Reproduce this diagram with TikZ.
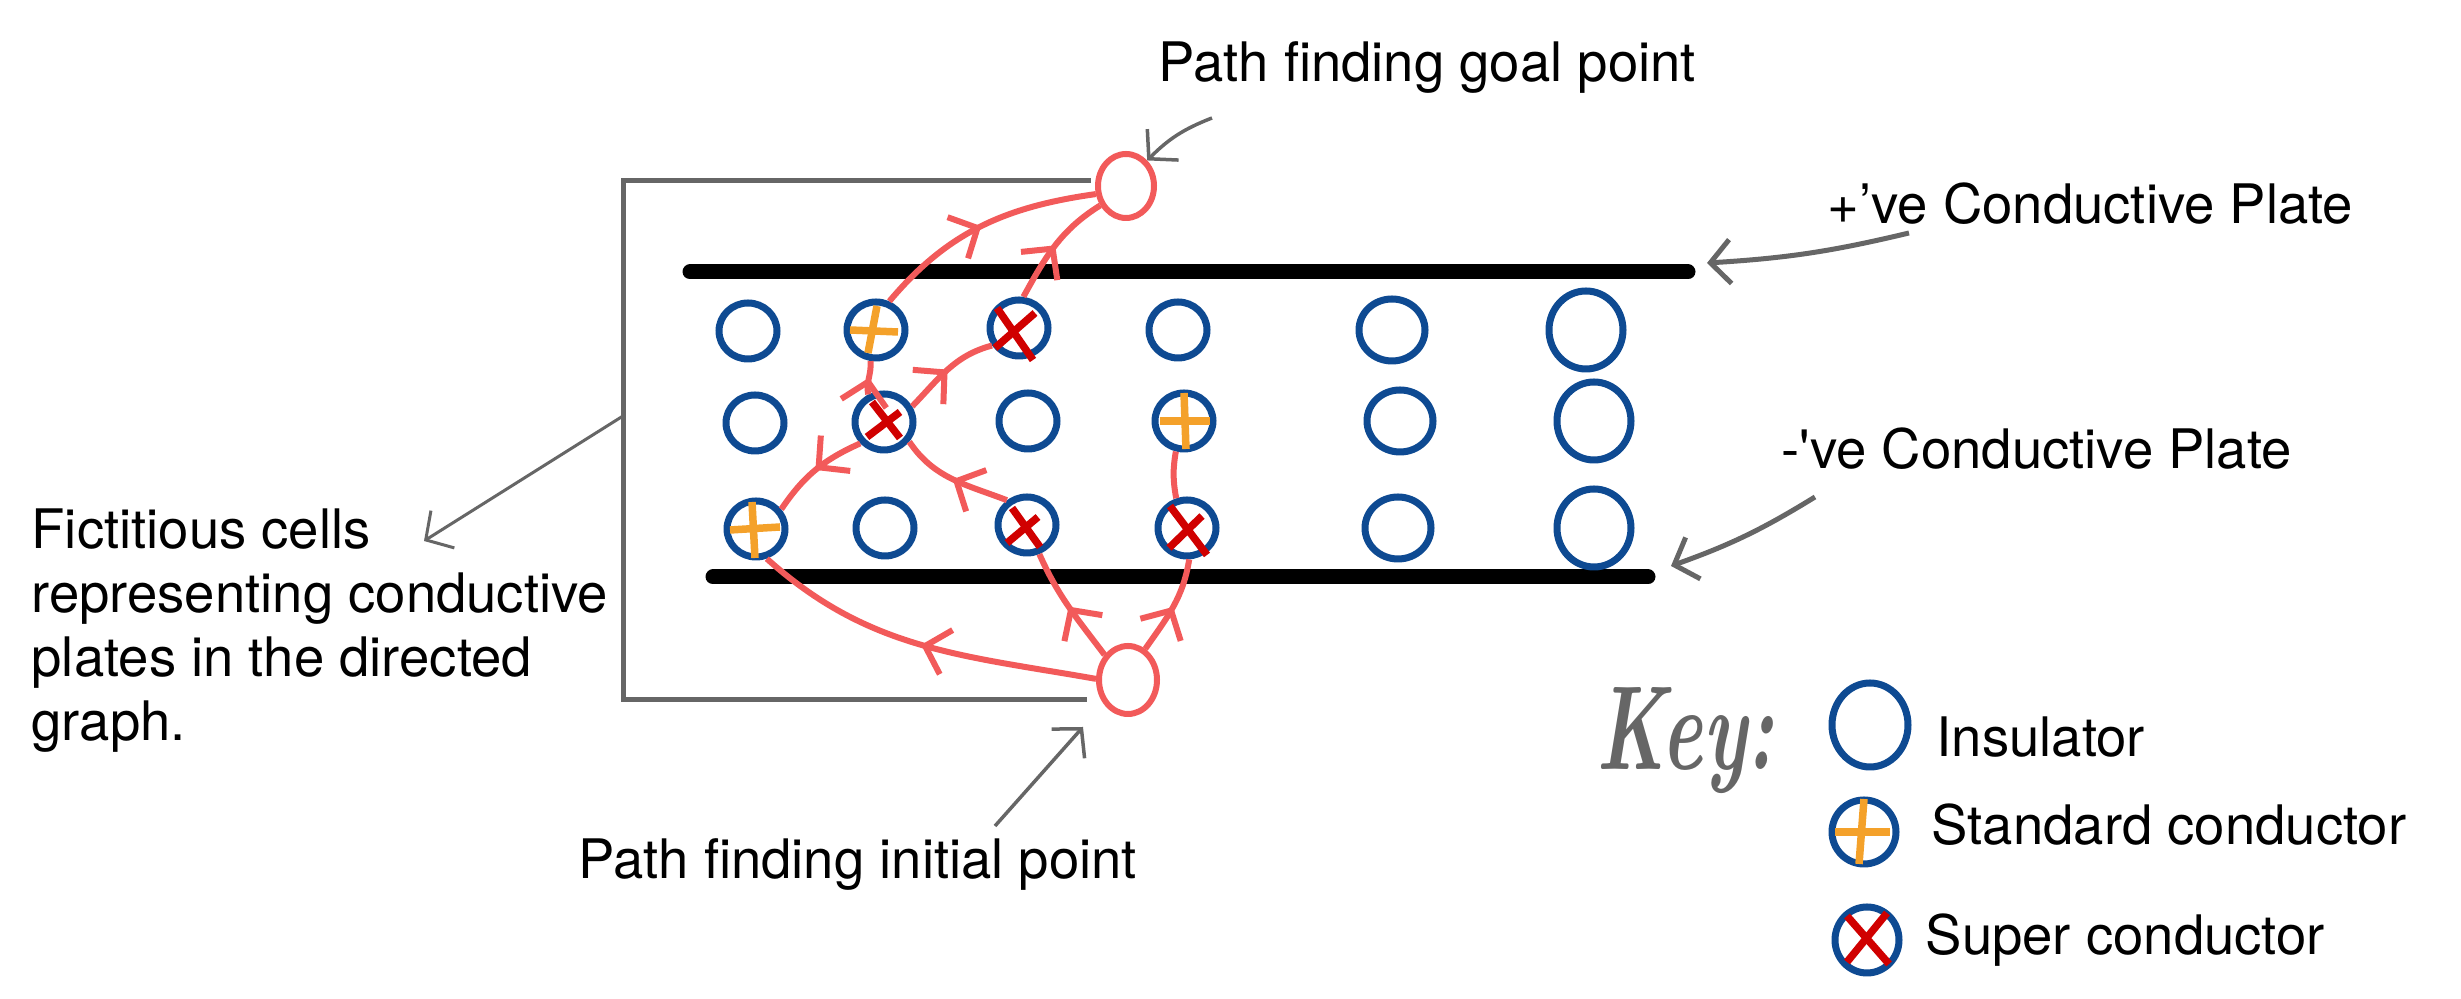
\documentclass[tikz,border=0pt]{standalone}
\usepackage{fontspec}
\newfontfamily\helv{TeX Gyre Heros}
\usepackage{xcolor}
\usetikzlibrary{arrows.meta,decorations.markings,shapes.geometric,positioning}

\definecolor{cellblue}{HTML}{0E4A92}
\definecolor{pathred}{HTML}{F25A5A}
\definecolor{supred}{HTML}{D00000}
\definecolor{stdorange}{HTML}{F4A12A}
\definecolor{anngray}{HTML}{666666}

\begin{document}
\begin{tikzpicture}[>=Latex,
  cell/.style={draw=cellblue,line width=0.7mm,ellipse,minimum width=5.8mm,minimum height=5.6mm,inner sep=0pt},
  bigcell/.style={cell,minimum width=6.6mm,minimum height=6.2mm},
  hugecell/.style={cell,minimum width=7.4mm,minimum height=7.8mm},
  endpt/.style={draw=pathred,line width=0.6mm,ellipse,minimum width=5.6mm,minimum height=6.4mm,inner sep=0pt},
  flow/.style={pathred,line width=0.6mm,postaction={decorate},
    decoration={markings,mark=at position 0.5 with {\arrow{Straight Barb[length=2.2mm,width=4.6mm]}}}},
  plusmk/.style={stdorange,line width=0.75mm},
  crossmk/.style={supred,line width=0.75mm},
  plate/.style={line width=1.5mm,line cap=round},
  frame/.style={anngray,line width=0.5mm},
  ann/.style={-{Straight Barb[length=2mm,width=4.4mm]},anngray,line width=0.35mm},
  lbl/.style={font=\helv\fontsize{15.5}{18.3}\selectfont,inner sep=0pt,anchor=base west}]
\useasboundingbox (0,0) rectangle (24.61,9.99);

% plates and fictitious cell frame
\draw[plate] (6.90,7.27) -- (16.88,7.27);
\draw[plate] (7.13,4.22) -- (16.48,4.22);
\draw[frame] (10.91,8.18) -- (6.23,8.18) -- (6.23,2.99) -- (10.87,2.99);
\coordinate (boxL) at (6.23,5.83);

% path end points
\node[endpt] (goal) at (11.26,8.13) {};
\node[endpt,minimum width=5.8mm,minimum height=6.8mm] (init) at (11.28,3.19) {};

% cells
\node[cell] (c11) at (7.48,6.68) {};
\node[cell] (c12) at (8.76,6.69) {};
\node[cell] (c13) at (10.19,6.71) {};
\node[cell] (c14) at (11.78,6.69) {};
\node[bigcell] (c15) at (13.92,6.69) {};
\node[hugecell] (c16) at (15.86,6.69) {};
\node[cell] (c21) at (7.55,5.76) {};
\node[cell] (c22) at (8.84,5.77) {};
\node[cell] (c23) at (10.28,5.78) {};
\node[cell] (c24) at (11.84,5.78) {};
\node[bigcell] (c25) at (14.00,5.78) {};
\node[hugecell] (c26) at (15.94,5.78) {};
\node[cell] (c31) at (7.56,4.70) {};
\node[cell] (c32) at (8.85,4.71) {};
\node[cell] (c33) at (10.27,4.74) {};
\node[cell] (c34) at (11.87,4.71) {};
\node[bigcell] (c35) at (13.98,4.71) {};
\node[hugecell] (c36) at (15.94,4.71) {};

% standard conductors
\draw[plusmk] ([shift={(-0.26,0)}]c12.center) -- ([shift={(0.22,-0.02)}]c12.center);
\draw[plusmk] ([shift={(0.01,0.24)}]c12.center) -- ([shift={(-0.08,-0.23)}]c12.center);
\draw[plusmk] ([xshift=-2.4mm]c24.center) -- ([xshift=2.6mm]c24.center);
\draw[plusmk] ([yshift=2.8mm]c24.center) -- ([shift={(0.02,-0.28)}]c24.center);
\draw[plusmk] ([shift={(-0.26,-0.01)}]c31.center) -- ([shift={(0.24,0.02)}]c31.center);
\draw[plusmk] ([shift={(-0.04,0.27)}]c31.center) -- ([shift={(-0.01,-0.29)}]c31.center);

% super conductors
\draw[crossmk] ([shift={(-0.22,0.2)}]c13.center) -- ([shift={(0.14,-0.32)}]c13.center);
\draw[crossmk] ([shift={(0.16,0.15)}]c13.center) -- ([shift={(-0.24,-0.2)}]c13.center);
\draw[crossmk] ([shift={(-0.12,0.2)}]c22.center) -- ([shift={(0.16,-0.16)}]c22.center);
\draw[crossmk] ([shift={(0.16,0.1)}]c22.center) -- ([shift={(-0.17,-0.15)}]c22.center);
\draw[crossmk] ([shift={(-0.15,0.17)}]c33.center) -- ([shift={(0.13,-0.22)}]c33.center);
\draw[crossmk] ([shift={(0.11,0.08)}]c33.center) -- ([shift={(-0.2,-0.18)}]c33.center);
\draw[crossmk] ([shift={(-0.17,0.22)}]c34.center) -- ([shift={(0.2,-0.27)}]c34.center);
\draw[crossmk] ([shift={(0.15,0.12)}]c34.center) -- ([shift={(-0.18,-0.2)}]c34.center);

% directed graph
\draw[flow] (init.178) to[out=170,in=-42] (c31.-70);
\draw[flow] (c22.222) to[out=204,in=56] (c31.38);
\draw[flow] (c33.129) to[out=159,in=-56] (c22.-38);
\draw[flow] (init.133) to[out=127,in=-66] (c33.-67);
\draw[flow] (init.61) to[out=55,in=-99] (c34.-86);
\draw[pathred,line width=0.6mm] (c34.110) to[bend left=10] (c24.-105);
\draw[flow] (c22.120) to[out=100,in=-85] (c12.-100);
\draw[flow] (c22.29) to[out=46,in=195] (c13.213);
\draw[flow] (c12.65) to[out=50,in=188] (goal.195);
\draw[flow] (c13.82) to[out=61,in=212] (goal.217);

% annotations
\node[lbl] (goaltxt) at (11.58,9.17) {Path finding goal point};
\node[lbl] (postxt) at (18.27,7.75) {+’ve Conductive Plate};
\node[lbl] (negtxt) at (17.81,5.30) {-\textquotesingle ve Conductive Plate};
\node[lbl] (inittxt) at (5.78,1.20) {Path finding initial point};
\node[lbl,align=left] (fict) at (0.31,2.58) {Fictitious cells\\representing conductive\\plates in the directed\\graph.};

\coordinate (gtail) at (12.12,8.81);
\coordinate (ptail) at (19.09,7.66);
\coordinate (ptip) at (17.07,7.36);
\coordinate (ntail) at (18.15,5.02);
\coordinate (ntip) at (16.71,4.33);
\coordinate (ftip) at (4.24,4.58);
\coordinate (itail) at (9.95,1.73);
\coordinate (itip) at (10.83,2.72);
\draw[ann] (gtail) to[bend right=12] (goal);
\draw[ann,line width=0.5mm] (ptail) to[bend left=5] (ptip);
\draw[ann,line width=0.5mm] (ntail) to[bend left=6] (ntip);
\draw[ann,line width=0.3mm] (boxL) -- (ftip);
\draw[ann] (itail) -- (itip);

% key
\node[anchor=base west,inner sep=0pt,text=anngray] (key) at (15.96,2.29)
  {\scalebox{0.65}[1]{\fontsize{34}{34}\selectfont\bfseries\itshape Key:}};
\node[cell,minimum width=7.6mm,minimum height=8.4mm] (kins) at (18.70,2.74) {};
\node[cell,minimum width=6.4mm,minimum height=6.4mm] (kstd) at (18.64,1.67) {};
\node[cell,minimum width=6.4mm,minimum height=6.6mm] (ksup) at (18.67,0.59) {};
\draw[plusmk] ([xshift=-2.9mm]kstd.center) -- ([xshift=2.6mm]kstd.center);
\draw[plusmk] ([shift={(0.0,0.33)}]kstd.center) -- ([shift={(-0.05,-0.32)}]kstd.center);
\draw[crossmk] ([shift={(-0.2,0.24)}]ksup.center) -- ([shift={(0.22,-0.24)}]ksup.center);
\draw[crossmk] ([shift={(0.2,0.27)}]ksup.center) -- ([shift={(-0.2,-0.22)}]ksup.center);
\node[lbl] (kinstxt) at (19.36,2.42) {Insulator};
\node[lbl] (kstdtxt) at (19.31,1.54) {Standard conductor};
\node[lbl] (ksuptxt) at (19.25,0.44) {Super conductor};
\end{tikzpicture}
\end{document}
